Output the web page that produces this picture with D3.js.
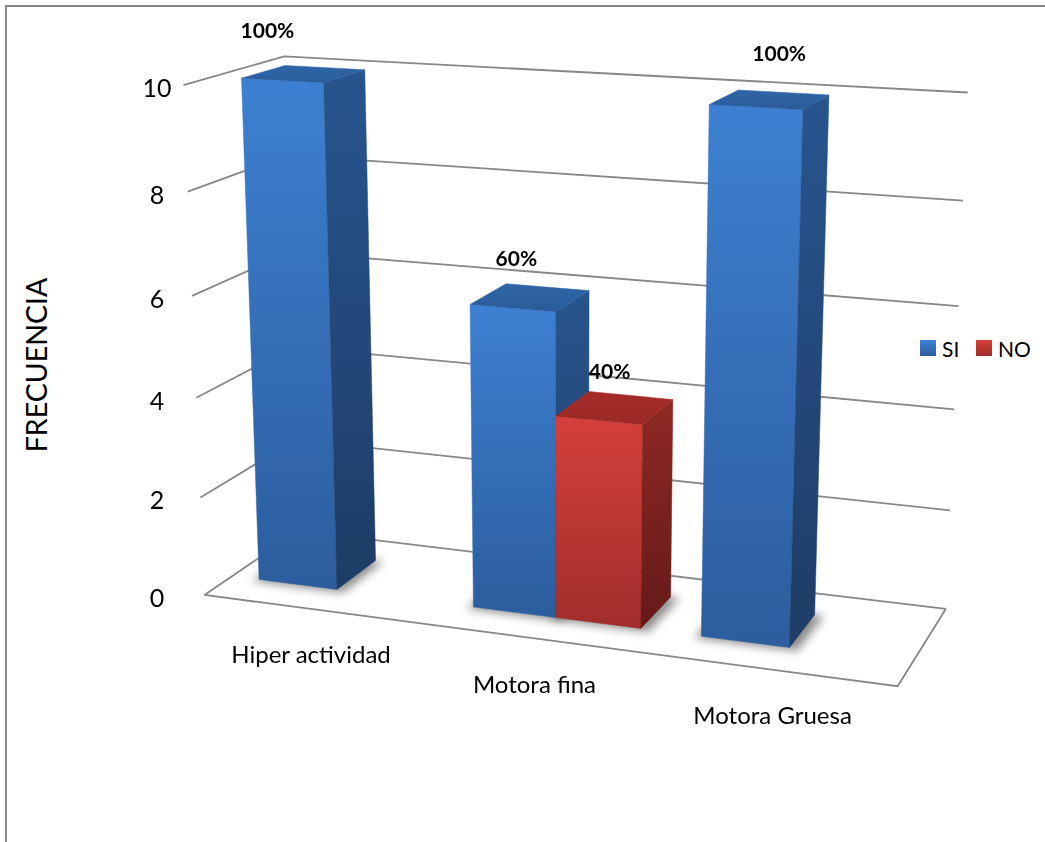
<!DOCTYPE html>
<html>
<head>
<meta charset="utf-8">
<script src="https://cdn.jsdelivr.net/npm/d3@7"></script>
<style>
  html, body { margin: 0; padding: 0; background: #ffffff; }
  svg { display: block; }
  text { font-family: Lato, "Open Sans", "DejaVu Sans", sans-serif; fill: #000; }
</style>
</head>
<body>
<svg id="chart" width="1045" height="842"></svg>
<script>
// ---- data ----
const categories = ["Hiper actividad", "Motora fina", "Motora Gruesa"];
const seriesNames = ["SI", "NO"];
const siValues = [10, 6, 10];
const noValues = [0, 4, 0];
const yTicks = [0, 2, 4, 6, 8, 10];
const axisTitle = "FRECUENCIA";

// ---- layout ----
// Screen anchors of the plot box used to calibrate the perspective camera.
// World space: x spans the three category bands [0,3], y is the value [0,10],
// z is depth (0 = front edge of the floor, 1 = back wall).
const boxAnchors = [
  [[0, 0, 1], [298, 531]], [[0, 2, 1], [296, 440]], [[0, 10, 1], [285, 56]],
  [[3, 0, 1], [946, 608]], [[3, 2, 1], [950, 511]], [[3, 4, 1], [954, 410]],
  [[3, 6, 1], [959, 307]], [[3, 8, 1], [963, 200]], [[3, 10, 1], [967, 92]],
  [[0, 0, 0], [205, 594]], [[0, 2, 0], [200, 498]], [[0, 4, 0], [196, 398]],
  [[0, 6, 0], [192, 296]], [[0, 8, 0], [188, 192]], [[0, 10, 0], [183, 85]],
  [[3, 0, 0], [898, 686]]
];
const barDepth = [0.28, 0.72];      // bar front / back depth in world z
const seriesPadding = 0.35;          // outer padding of the series inside each band
const valueLabelLift = 0.95;         // world units above the bar top
const valueLabelSpread = 1.075;      // outward spread of the 3D data labels
const valueLabelCentreX = 458;
const categoryLabelDrop = 45;        // px below the floor's front edge
const tickLabelX = 157;

const colors = {
  SI: { front: ["#3d80d1", "#2c5d9d"], side: ["#28558f", "#1e3c65"], top: ["#2f66a8", "#2a5b99"] },
  NO: { front: ["#d5403b", "#a02d2a"], side: ["#8f2825", "#641a18"], top: ["#a62d29", "#9a2925"] }
};
const gridColor = "#878787";

// ---- perspective camera fitted by least squares (DLT) ----
function fitCamera(anchors) {
  const s = 1000, n = 11;
  const M = Array.from({ length: n }, () => new Array(n + 1).fill(0));
  const add = (row, rhs) => {
    for (let i = 0; i < n; i++) {
      for (let j = 0; j < n; j++) M[i][j] += row[i] * row[j];
      M[i][n] += row[i] * rhs;
    }
  };
  anchors.forEach(([[X, Y, Z], [u0, v0]]) => {
    const u = u0 / s, v = v0 / s;
    add([X, Y, Z, 1, 0, 0, 0, 0, -u * X, -u * Y, -u * Z], u);
    add([0, 0, 0, 0, X, Y, Z, 1, -v * X, -v * Y, -v * Z], v);
  });
  for (let c = 0; c < n; c++) {
    let piv = c;
    for (let r = c + 1; r < n; r++) if (Math.abs(M[r][c]) > Math.abs(M[piv][c])) piv = r;
    [M[c], M[piv]] = [M[piv], M[c]];
    for (let r = 0; r < n; r++) {
      if (r === c) continue;
      const f = M[r][c] / M[c][c];
      for (let k = c; k <= n; k++) M[r][k] -= f * M[c][k];
    }
  }
  const p = M.map((row, i) => row[n] / row[i]);
  return ([X, Y, Z]) => {
    const w = p[8] * X + p[9] * Y + p[10] * Z + 1;
    return [s * (p[0] * X + p[1] * Y + p[2] * Z + p[3]) / w,
            s * (p[4] * X + p[5] * Y + p[6] * Z + p[7]) / w];
  };
}
const project = fitCamera(boxAnchors);

// ---- scales ----
const xBand = d3.scaleBand().domain(categories).range([0, 3]);
const xSeries = d3.scaleBand().domain(seriesNames).range([0, 1]).paddingOuter(seriesPadding);
const yScale = d3.scaleLinear().domain([0, 10]).range([0, 10]);
const xMax = xBand.range()[1];

const svg = d3.select("#chart");
const defs = svg.append("defs");

function vGradient(id, [c0, c1]) {
  const g = defs.append("linearGradient").attr("id", id)
    .attr("x1", 0).attr("y1", 0).attr("x2", 0).attr("y2", 1);
  g.append("stop").attr("offset", "0%").attr("stop-color", c0);
  g.append("stop").attr("offset", "100%").attr("stop-color", c1);
}
seriesNames.forEach(s => {
  vGradient(`g-${s}-front`, colors[s].front);
  vGradient(`g-${s}-side`, colors[s].side);
  vGradient(`g-${s}-top`, colors[s].top);
});
defs.append("filter").attr("id", "soft").attr("x", "-50%").attr("y", "-50%")
  .attr("width", "200%").attr("height", "200%")
  .append("feGaussianBlur").attr("stdDeviation", 5);

const line = d3.line();
const toPath = pts => line(pts.map(project));

// chart area frame
svg.append("rect").attr("x", 6).attr("y", 6).attr("width", 1200).attr("height", 1200)
  .attr("fill", "none").attr("stroke", "#878787").attr("stroke-width", 2);

// ---- walls: gridlines on the left wall and back wall ----
const grid = svg.append("g").attr("fill", "none").attr("stroke", gridColor).attr("stroke-width", 1.8);
yTicks.forEach(t => {
  const y = yScale(t);
  grid.append("path").attr("d", toPath([[0, y, 0], [0, y, 1], [xMax, y, 1]]));
});
// floor outline: front edge and right edge
grid.append("path").attr("d", toPath([[0, 0, 0], [xMax, 0, 0], [xMax, 0, 1]]));

// ---- bars ----
const bars = [];
categories.forEach((c, i) => {
  [siValues[i], noValues[i]].forEach((v, k) => {
    if (v <= 0) return;
    const s = seriesNames[k];
    const x0 = xBand(c) + xSeries(s) * xBand.bandwidth();
    const x1 = x0 + xSeries.bandwidth() * xBand.bandwidth();
    bars.push({ cat: c, series: s, value: v, total: siValues[i] + noValues[i], x0, x1, h: yScale(v) });
  });
});
bars.sort((a, b) => a.x0 - b.x0);

// soft contact shadows on the floor
const [z0, z1] = barDepth;
svg.append("g").attr("filter", "url(#soft)")
  .selectAll("path").data(bars).join("path")
  .attr("d", b => toPath([[b.x0 - 0.02, 0, z0 - 0.03], [b.x1 + 0.04, 0, z0 - 0.03],
                          [b.x1 + 0.04, 0, z1], [b.x0 - 0.02, 0, z1]]) + "Z")
  .attr("fill", "#000").attr("opacity", 0.45);

// faces with vertices ordered so that visible faces have negative screen area
function faces(b) {
  const { x0, x1, h } = b;
  return [
    { kind: "front", pts: [[x0, 0, z0], [x1, 0, z0], [x1, h, z0], [x0, h, z0]] },
    { kind: "side",  pts: [[x0, h, z1], [x1, h, z1], [x1, 0, z1], [x0, 0, z1]] },
    { kind: "side",  pts: [[x1, 0, z0], [x1, 0, z1], [x1, h, z1], [x1, h, z0]] },
    { kind: "side",  pts: [[x0, h, z0], [x0, h, z1], [x0, 0, z1], [x0, 0, z0]] },
    { kind: "top",   pts: [[x0, h, z0], [x1, h, z0], [x1, h, z1], [x0, h, z1]] },
    { kind: "side",  pts: [[x0, 0, z1], [x1, 0, z1], [x1, 0, z0], [x0, 0, z0]] }
  ];
}
const signedArea = pts => {
  let a = 0;
  for (let i = 0; i < pts.length; i++) {
    const [xa, ya] = pts[i], [xb, yb] = pts[(i + 1) % pts.length];
    a += xa * yb - xb * ya;
  }
  return a / 2;
};
const barG = svg.append("g");
bars.forEach(b => {
  const g = barG.append("g");
  faces(b).forEach(f => {
    const sp = f.pts.map(project);
    if (signedArea(sp) >= 0) return;
    g.append("path").attr("d", line(sp) + "Z")
      .attr("fill", `url(#g-${b.series}-${f.kind})`)
      .attr("stroke", `url(#g-${b.series}-${f.kind})`).attr("stroke-width", 0.5)
      .attr("stroke-linejoin", "round");
  });
});

// ---- data labels ----
const pct = d3.format(".0%");
const labelAnchor = b => project([(b.x0 + b.x1) / 2, b.h + valueLabelLift, z0]);
svg.append("g").selectAll("text").data(bars).join("text")
  .attr("x", b => valueLabelCentreX + (labelAnchor(b)[0] - valueLabelCentreX) * valueLabelSpread)
  .attr("y", b => labelAnchor(b)[1])
  .attr("text-anchor", "middle").attr("dominant-baseline", "central")
  .attr("font-size", 21).attr("font-weight", "bold")
  .text(b => pct(b.value / b.total));

// ---- value axis labels ----
svg.append("g").selectAll("text").data(yTicks).join("text")
  .attr("x", tickLabelX)
  .attr("y", t => project([0, yScale(t), 0])[1] + 2)
  .attr("text-anchor", "middle").attr("dominant-baseline", "central")
  .attr("font-size", 25)
  .text(t => t);

// ---- category labels ----
const catAnchor = c => project([xBand(c) + xBand.bandwidth() / 2, 0, 0]);
svg.append("g").selectAll("text").data(categories).join("text")
  .attr("x", c => catAnchor(c)[0])
  .attr("y", c => catAnchor(c)[1] + categoryLabelDrop)
  .attr("text-anchor", "middle").attr("dominant-baseline", "central")
  .attr("font-size", 24)
  .text(c => c);

// ---- axis title ----
svg.append("text")
  .attr("transform", "translate(36,365) rotate(-90)")
  .attr("text-anchor", "middle").attr("dominant-baseline", "central")
  .attr("font-size", 28.5)
  .text(axisTitle);

// ---- legend ----
const legend = svg.append("g").attr("transform", "translate(920,340)");
const legendX = d3.scalePoint().domain(seriesNames).range([0, 56]);
const item = legend.selectAll("g").data(seriesNames).join("g")
  .attr("transform", s => `translate(${legendX(s)},0)`);
item.append("rect").attr("width", 16).attr("height", 16)
  .attr("fill", s => `url(#g-${s}-front)`);
item.append("text").attr("x", 22).attr("y", 8)
  .attr("dominant-baseline", "central").attr("font-size", 21)
  .text(s => s);
</script>
</body>
</html>
